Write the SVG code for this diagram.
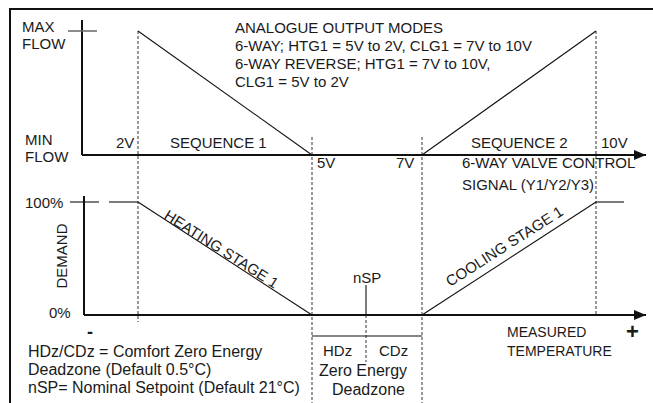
<svg xmlns="http://www.w3.org/2000/svg" width="653" height="403" viewBox="0 0 653 403">
<style>
text{font-family:"Liberation Sans",Arial,sans-serif;font-size:15px;fill:#1a1a1a}
.big{font-size:16px}
.sm{font-size:14px}
.ax{stroke:#111;stroke-width:2;fill:none}
.ln{stroke:#111;stroke-width:1.1;fill:none}
.ds{stroke:#555;stroke-width:1.2;stroke-dasharray:3 2;fill:none}
.tk{stroke:#666;stroke-width:1.5;fill:none}
</style>
<defs>
<marker id="arr" markerWidth="12" markerHeight="10" refX="12" refY="5" orient="auto" markerUnits="userSpaceOnUse">
<path d="M0,0 L12,5 L0,10 Z" fill="#111"/>
</marker>
</defs>
<rect x="10" y="9" width="680" height="440" fill="#fff" stroke="#111" stroke-width="2"/>
<g id="connectors">
<line class="ds" x1="138" y1="31" x2="138" y2="322"/>
<line class="ds" x1="312" y1="137" x2="312" y2="403"/>
<line class="ds" x1="422" y1="137" x2="422" y2="403"/>
<line class="ds" x1="596" y1="31" x2="596" y2="315"/>
<line class="ds" x1="366" y1="315" x2="366" y2="362"/>
</g>
<g id="top-chart">
<line class="ax" x1="82" y1="20" x2="82" y2="155"/>
<line class="tk" x1="68" y1="31" x2="97" y2="31"/>
<line class="ax" x1="82" y1="155" x2="646" y2="155" marker-end="url(#arr)"/>
<line class="ln" x1="138" y1="31" x2="312" y2="155"/>
<line class="ln" x1="422" y1="155" x2="596" y2="31"/>
<text x="22" y="32">MAX</text>
<text x="22" y="49">FLOW</text>
<text x="25" y="145">MIN</text>
<text x="25" y="162">FLOW</text>
<text x="116" y="148">2V</text>
<text x="170" y="148">SEQUENCE 1</text>
<text x="317" y="168">5V</text>
<text x="396" y="168">7V</text>
<text x="471" y="148">SEQUENCE 2</text>
<text x="601" y="148">10V</text>
<text x="462" y="168">6-WAY VALVE CONTROL</text>
<text x="462" y="190">SIGNAL (Y1/Y2/Y3)</text>
</g>
<g id="modes">
<text x="235" y="33">ANALOGUE OUTPUT MODES</text>
<text x="235" y="51">6-WAY; HTG1 = 5V to 2V, CLG1 = 7V to 10V</text>
<text x="235" y="69">6-WAY REVERSE; HTG1 = 7V to 10V,</text>
<text x="235" y="87">CLG1 = 5V to 2V</text>
</g>
<g id="bottom-chart">
<line class="ax" x1="84" y1="196" x2="84" y2="315"/>
<line class="ln" x1="70" y1="202" x2="99" y2="202"/>
<line class="ax" x1="84" y1="315" x2="646" y2="315" marker-end="url(#arr)"/>
<line class="ln" x1="109" y1="202" x2="138" y2="202"/>
<line class="ln" x1="138" y1="202" x2="312" y2="315"/>
<line class="ln" x1="422" y1="315" x2="596" y2="202"/>
<line class="ln" x1="596" y1="202" x2="624" y2="202"/>
<text x="25" y="208">100%</text>
<text x="49" y="318">0%</text>
<text transform="translate(67,256) rotate(-90)" text-anchor="middle">DEMAND</text>
<text transform="translate(163,218) rotate(32.5)">HEATING STAGE 1</text>
<text transform="translate(450,287) rotate(-32.5)">COOLING STAGE 1</text>
<text x="87" y="338" style="font-weight:bold;font-size:18px">-</text>
<text x="626" y="339" style="font-weight:bold;font-size:22px">+</text>
<text class="sm" x="507" y="337">MEASURED</text>
<text class="sm" x="507" y="356">TEMPERATURE</text>
</g>
<g id="deadzone">
<line class="ln" x1="366" y1="285" x2="366" y2="315"/>
<line class="ln" x1="312" y1="336" x2="422" y2="336"/>
<text x="353" y="283">nSP</text>
<text x="323" y="356">HDz</text>
<text x="379" y="356">CDz</text>
<text class="big" x="319" y="376">Zero Energy</text>
<text class="big" x="332" y="395">Deadzone</text>
</g>
<g id="legend">
<text class="big" x="28" y="357">HDz/CDz = Comfort Zero Energy</text>
<text class="big" x="28" y="375">Deadzone (Default 0.5°C)</text>
<text class="big" x="28" y="393">nSP= Nominal Setpoint (Default 21°C)</text>
</g>
</svg>
